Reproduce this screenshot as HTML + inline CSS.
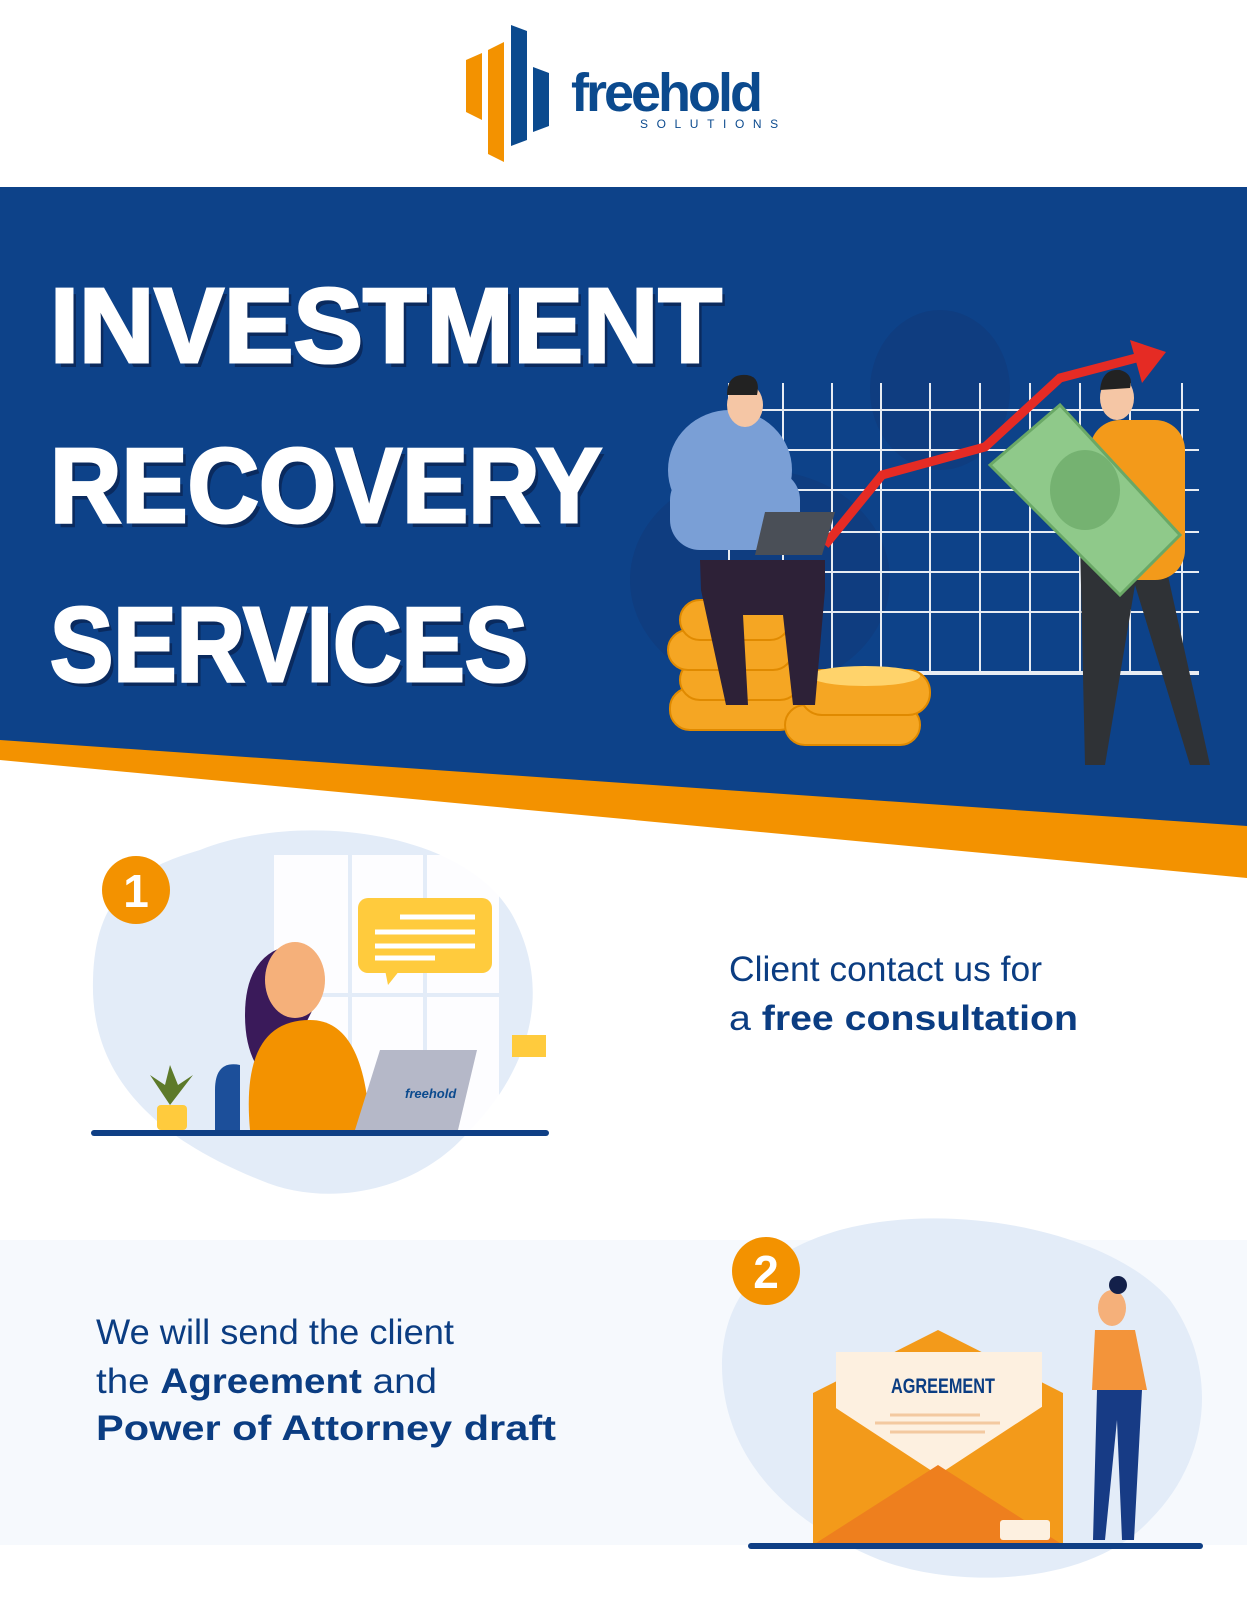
<!DOCTYPE html>
<html><head><meta charset="utf-8"><style>
html,body{margin:0;padding:0;background:#fff;}
body{width:1247px;height:1600px;overflow:hidden;position:relative;font-family:"Liberation Sans",sans-serif;}
svg{position:absolute;left:0;top:0;}
</style></head><body>
<svg width="1247" height="1600" viewBox="0 0 1247 1600" xmlns="http://www.w3.org/2000/svg">
<!-- logo -->
<polygon points="466,60 482,53 482,120 466,112" fill="#f39200"/>
<polygon points="488,50 504,42 504,162 488,154" fill="#f39200"/>
<polygon points="511,25 527,31 527,140 511,146" fill="#0b4a8e"/>
<polygon points="533,67 549,73 549,126 533,132" fill="#0b4a8e"/>
<text x="571" y="111" font-family="Liberation Sans" font-weight="bold" font-size="54" letter-spacing="-3" fill="#0b4a8e">freehold</text>
<text x="640" y="128" font-family="Liberation Sans" font-size="12" letter-spacing="8.6" fill="#0b4a8e">SOLUTIONS</text>

<!-- blue band -->
<polygon points="0,187 1247,187 1247,878 0,760" fill="#f39200"/>
<polygon points="0,187 1247,187 1247,826 0,740" fill="#0d4289"/>
<ellipse cx="940" cy="390" rx="70" ry="80" fill="#0f3d80"/>
<ellipse cx="760" cy="580" rx="130" ry="110" fill="#0f3d80"/>

<!-- title -->
<g font-family="Liberation Sans" font-weight="bold" font-size="106" fill="#0a2a5e" transform="translate(4,5)">
<text x="50" y="362" textLength="672" lengthAdjust="spacingAndGlyphs">INVESTMENT</text>
<text x="50" y="522" textLength="552" lengthAdjust="spacingAndGlyphs">RECOVERY</text>
<text x="50" y="681" textLength="478" lengthAdjust="spacingAndGlyphs">SERVICES</text>
</g>
<g font-family="Liberation Sans" font-weight="bold" font-size="106" fill="#fff" stroke="#fff" stroke-width="3">
<text x="50" y="362" textLength="672" lengthAdjust="spacingAndGlyphs">INVESTMENT</text>
<text x="50" y="522" textLength="552" lengthAdjust="spacingAndGlyphs">RECOVERY</text>
<text x="50" y="681" textLength="478" lengthAdjust="spacingAndGlyphs">SERVICES</text>
</g>

<!-- grid -->
<g stroke="#fff" stroke-width="2" opacity="0.9">
<line x1="729" y1="383" x2="729" y2="673"/><line x1="783" y1="383" x2="783" y2="673"/><line x1="832" y1="383" x2="832" y2="673"/><line x1="881" y1="383" x2="881" y2="673"/><line x1="930" y1="383" x2="930" y2="673"/><line x1="980" y1="383" x2="980" y2="673"/><line x1="1030" y1="383" x2="1030" y2="673"/><line x1="1080" y1="383" x2="1080" y2="673"/><line x1="1130" y1="383" x2="1130" y2="673"/><line x1="1182" y1="383" x2="1182" y2="673"/>
<line x1="729" y1="410" x2="1199" y2="410"/><line x1="729" y1="450" x2="1199" y2="450"/><line x1="729" y1="490" x2="1199" y2="490"/><line x1="729" y1="532" x2="1199" y2="532"/><line x1="729" y1="572" x2="1199" y2="572"/><line x1="729" y1="612" x2="1199" y2="612"/>
<line x1="729" y1="673" x2="1199" y2="673" stroke-width="4"/>
</g>
<polyline points="825,545 882,475 985,447 1060,378 1140,357" fill="none" stroke="#e52b24" stroke-width="9"/>
<polygon points="1130,340 1166,352 1142,383" fill="#e52b24"/>
<g fill="#f5a623" stroke="#e08a00" stroke-width="2">
<rect x="670" y="688" width="130" height="42" rx="20"/><rect x="680" y="660" width="120" height="40" rx="20"/><rect x="668" y="630" width="125" height="40" rx="20"/><rect x="680" y="600" width="110" height="40" rx="20"/>
<rect x="785" y="705" width="135" height="40" rx="20"/><rect x="800" y="670" width="130" height="45" rx="22"/>
</g>
<ellipse cx="865" cy="676" rx="55" ry="10" fill="#ffd36b"/>
<ellipse cx="730" cy="470" rx="62" ry="60" fill="#7a9fd6"/>
<rect x="670" y="470" width="130" height="80" rx="30" fill="#7a9fd6"/>
<ellipse cx="745" cy="405" rx="18" ry="22" fill="#f5c6a5"/>
<path d="M727,395 q0,-22 20,-20 q14,2 10,20 z" fill="#222"/>
<path d="M700,560 h125 v30 l-10,115 h-22 l-10,-90 h-40 l5,90 h-22 l-25,-115 z" fill="#2d2137"/>
<polygon points="765,512 835,512 822,555 755,555" fill="#4a4f57"/>
<path d="M1080,540 h80 l50,225 h-20 l-55,-180 l-30,180 h-20 z" fill="#2f3236"/>
<rect x="1090" y="420" width="95" height="160" rx="30" fill="#f39a1a"/>
<ellipse cx="1117" cy="398" rx="17" ry="22" fill="#f5c6a5"/>
<path d="M1100,390 q2,-22 20,-20 q14,4 10,18 z" fill="#222"/>
<polygon points="990,465 1060,405 1180,535 1120,595" fill="#8fc98a" stroke="#6aa866" stroke-width="3"/>
<ellipse cx="1085" cy="490" rx="35" ry="40" fill="#6aa866" opacity="0.7"/>

<!-- step 1 -->
<path d="M200,850 C300,810 470,830 515,920 C560,1010 510,1090 470,1130 C420,1190 330,1210 260,1180 C160,1140 90,1080 93,980 C95,900 130,870 200,850 Z" fill="#e3ecf8"/>
<rect x="274" y="855" width="225" height="280" fill="#fff" opacity="0.9"/>
<line x1="350" y1="855" x2="350" y2="1135" stroke="#e3ecf8" stroke-width="4"/><line x1="425" y1="855" x2="425" y2="1135" stroke="#e3ecf8" stroke-width="4"/><line x1="274" y1="995" x2="499" y2="995" stroke="#e3ecf8" stroke-width="4"/>
<circle cx="136" cy="890" r="34" fill="#f39200"/>
<text x="136" y="907" text-anchor="middle" font-family="Liberation Sans" font-weight="bold" font-size="46" fill="#fff">1</text>
<rect x="358" y="898" width="134" height="75" rx="10" fill="#ffcb3d"/>
<polygon points="385,970 400,970 388,985" fill="#ffcb3d"/>
<g stroke="#fff" stroke-width="5"><line x1="400" y1="917" x2="475" y2="917"/><line x1="375" y1="932" x2="475" y2="932"/><line x1="375" y1="946" x2="475" y2="946"/><line x1="375" y1="958" x2="435" y2="958"/></g>
<path d="M290,945 q-45,10 -45,70 q0,50 30,70 l40,-80 z" fill="#3a1a5a"/>
<ellipse cx="295" cy="980" rx="30" ry="38" fill="#f5b07a"/>
<path d="M250,1130 q-10,-110 60,-110 q55,0 60,110 z" fill="#f39200"/>
<path d="M215,1090 q0,-30 25,-25 v65 h-25 z" fill="#1c4f9a"/>
<polygon points="380,1050 477,1050 458,1130 355,1130" fill="#b5b8c8"/>
<text x="405" y="1098" font-family="Liberation Sans" font-weight="bold" font-style="italic" font-size="13" fill="#0b4a8e">freehold</text>
<rect x="512" y="1035" width="34" height="22" fill="#ffcb3d"/>
<rect x="157" y="1105" width="30" height="25" rx="4" fill="#ffcb3d"/>
<path d="M170,1105 l-20,-30 l15,10 l5,-20 l8,20 l15,-10 z" fill="#5d7a2a"/>
<rect x="91" y="1130" width="458" height="6" rx="3" fill="#0f3f85"/>
<text x="729" y="981" font-family="Liberation Sans" font-size="35" fill="#0b3d82" textLength="313" lengthAdjust="spacingAndGlyphs">Client contact us for</text>
<text x="729" y="1030" font-family="Liberation Sans" font-size="35" fill="#0b3d82" textLength="349" lengthAdjust="spacingAndGlyphs">a <tspan font-weight="bold">free consultation</tspan></text>

<!-- step 2 -->
<rect x="0" y="1240" width="1247" height="305" fill="#f6f9fd"/>
<path d="M840,1230 C950,1200 1110,1230 1170,1300 C1220,1370 1210,1460 1150,1520 C1090,1585 960,1590 880,1560 C780,1520 720,1450 722,1360 C725,1290 770,1250 840,1230 Z" fill="#e3ecf8"/>
<circle cx="766" cy="1271" r="34" fill="#f39200"/>
<text x="766" y="1288" text-anchor="middle" font-family="Liberation Sans" font-weight="bold" font-size="46" fill="#fff">2</text>
<polygon points="813,1393 938,1330 1063,1393 1063,1545 813,1545" fill="#f39a1a"/>
<rect x="836" y="1352" width="206" height="135" fill="#fdf0e0"/>
<text x="943" y="1393" text-anchor="middle" font-family="Liberation Sans" font-weight="bold" font-size="21" fill="#0b3d82" textLength="104" lengthAdjust="spacingAndGlyphs">AGREEMENT</text>
<g stroke="#f3c9a0" stroke-width="3"><line x1="890" y1="1415" x2="980" y2="1415"/><line x1="875" y1="1423" x2="1000" y2="1423"/><line x1="890" y1="1432" x2="985" y2="1432"/></g>
<polygon points="813,1393 938,1475 1063,1393 1063,1545 813,1545" fill="#f39a1a"/>
<polygon points="813,1545 938,1465 1063,1545" fill="#ee7f1e"/>
<rect x="1000" y="1520" width="50" height="20" rx="3" fill="#fdf0e0"/>
<ellipse cx="1112" cy="1308" rx="14" ry="18" fill="#f5b07a"/>
<circle cx="1118" cy="1285" r="9" fill="#13204a"/>
<path d="M1095,1330 h40 l12,60 h-55 z" fill="#f3943a"/>
<path d="M1097,1390 h45 l-8,150 h-12 l-5,-120 l-12,120 h-12 z" fill="#173b85"/>
<rect x="748" y="1543" width="455" height="6" rx="3" fill="#0f3f85"/>
<g font-family="Liberation Sans" font-size="35" fill="#0b3d82">
<text x="96" y="1344" textLength="358" lengthAdjust="spacingAndGlyphs">We will send the client</text>
<text x="96" y="1393" textLength="341" lengthAdjust="spacingAndGlyphs">the <tspan font-weight="bold">Agreement</tspan> and</text>
<text x="96" y="1440" font-weight="bold" textLength="460" lengthAdjust="spacingAndGlyphs">Power of Attorney draft</text>
</g>
</svg>
</body></html>
